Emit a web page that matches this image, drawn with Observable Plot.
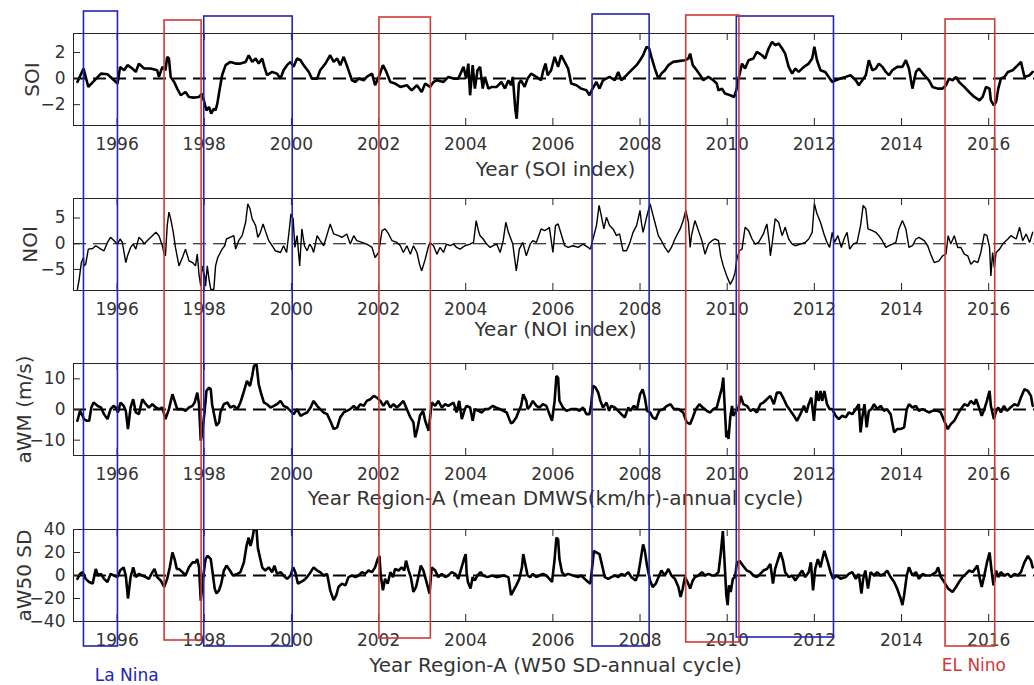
<!DOCTYPE html>
<html><head><meta charset="utf-8">
<script src="https://cdn.jsdelivr.net/npm/d3@7"></script>
<script src="https://cdn.jsdelivr.net/npm/@observablehq/plot@0.6"></script>
<style>
body{margin:0;background:#fff;}
#fig{position:relative;width:1034px;height:685px;overflow:hidden;background:#fff;font-family:"DejaVu Sans";}
#fig svg{position:absolute;left:0;max-width:none;}
</style></head><body><div id="fig"></div>
<script>
// ---- data: [year, value] ----
const soi = [[1995.09,-0.26],[1995.23,0.77],[1995.34,-0.64],[1995.63,0.38],[1995.78,0.33],[1996.01,-0.38],[1996.07,0.90],[1996.16,0.64],[1996.24,1.03],[1996.35,0.77],[1996.43,0.51],[1996.50,1.15],[1996.62,0.77],[1996.77,0.77],[1996.92,0.64],[1996.96,0.13],[1997.04,0.90],[1997.11,0.64],[1997.15,1.67],[1997.19,1.54],[1997.23,0.13],[1997.31,-0.26],[1997.38,-0.77],[1997.46,-1.28],[1997.57,-1.03],[1997.65,-1.41],[1997.76,-1.46],[1997.88,-1.41],[1997.95,-1.15],[1997.99,-1.67],[1998.05,-2.44],[1998.11,-2.18],[1998.16,-2.69],[1998.22,-2.31],[1998.26,-2.44],[1998.30,-1.92],[1998.35,-0.90],[1998.41,0.26],[1998.49,1.03],[1998.60,1.28],[1998.72,1.15],[1998.83,1.15],[1998.95,1.28],[1999.02,1.79],[1999.10,1.28],[1999.18,1.54],[1999.25,1.15],[1999.33,1.54],[1999.38,0.90],[1999.44,0.26],[1999.56,0.51],[1999.67,0.38],[1999.75,0],[1999.82,0.64],[1999.90,1.03],[1999.98,1.28],[2000.05,0.90],[2000.13,1.54],[2000.21,1.41],[2000.28,1.03],[2000.40,0.51],[2000.47,0],[2000.59,0],[2000.66,0.64],[2000.78,1.15],[2000.89,1.79],[2000.97,1.28],[2001.05,1.54],[2001.12,1.03],[2001.20,1.67],[2001.27,1.03],[2001.39,-0.13],[2001.47,-0.26],[2001.54,0],[2001.66,-0.13],[2001.73,0.13],[2001.85,0.38],[2001.92,-0.51],[2002.02,0.26],[2002.10,1.03],[2002.18,0.51],[2002.27,-0.26],[2002.38,-0.38],[2002.50,-0.64],[2002.65,-0.51],[2002.76,-0.90],[2002.88,-0.51],[2002.99,-1.03],[2003.07,-0.38],[2003.18,-0.64],[2003.26,-0.26],[2003.34,-0.13],[2003.49,-0.26],[2003.60,0.13],[2003.72,0],[2003.83,0],[2003.95,0.90],[2004.01,0],[2004.06,1.15],[2004.10,-1.28],[2004.16,1.03],[2004.21,-0.77],[2004.27,0.64],[2004.33,0.90],[2004.39,-0.77],[2004.44,0.13],[2004.52,-0.77],[2004.60,-0.64],[2004.71,-0.64],[2004.82,-0.26],[2004.90,-0.77],[2004.98,-0.13],[2005.04,-0.51],[2005.08,0.13],[2005.14,-2.44],[2005.17,-3.08],[2005.22,-0.38],[2005.27,-0.13],[2005.35,-0.64],[2005.42,0],[2005.50,0.38],[2005.62,0.13],[2005.73,-0.13],[2005.77,0.51],[2005.83,1.15],[2005.88,0.26],[2005.96,0.64],[2006.04,1.67],[2006.12,0.90],[2006.19,1.79],[2006.27,1.28],[2006.35,0.77],[2006.42,-0.38],[2006.54,-0.51],[2006.65,-0.77],[2006.77,-0.90],[2006.84,-1.28],[2006.91,-0.77],[2007.00,-0.26],[2007.07,-0.77],[2007.15,-0.13],[2007.30,0.13],[2007.42,-0.13],[2007.50,0.51],[2007.57,-0.13],[2007.69,0.26],[2007.80,0.64],[2007.92,1.03],[2008.00,1.41],[2008.07,1.79],[2008.15,2.44],[2008.21,2.31],[2008.26,1.67],[2008.34,0.77],[2008.42,0],[2008.49,0.38],[2008.57,0.64],[2008.65,1.03],[2008.76,1.28],[2008.92,1.36],[2009.03,1.41],[2009.11,1.54],[2009.15,1.92],[2009.21,1.03],[2009.30,0.64],[2009.38,0.26],[2009.45,-0.13],[2009.57,0.13],[2009.68,-0.13],[2009.76,-0.38],[2009.80,-0.90],[2009.88,-0.77],[2009.95,-1.15],[2010.07,-1.28],[2010.16,-1.41],[2010.22,-0.77],[2010.26,0],[2010.34,1.15],[2010.41,0.77],[2010.49,1.41],[2010.60,1.54],[2010.68,2.05],[2010.80,1.79],[2010.87,1.54],[2010.95,2.31],[2011.03,2.82],[2011.10,2.56],[2011.18,2.69],[2011.26,2.31],[2011.33,1.92],[2011.41,0.90],[2011.49,0.38],[2011.56,0.77],[2011.64,0.51],[2011.76,0.90],[2011.87,1.15],[2011.95,1.54],[2012.00,2.44],[2012.06,1.41],[2012.14,0.64],[2012.25,0.51],[2012.33,0.13],[2012.41,-0.26],[2012.49,-0.13],[2012.60,0],[2012.72,0.13],[2012.83,0.26],[2012.95,-0.13],[2013.02,-0.51],[2013.10,-0.13],[2013.18,0.26],[2013.25,1.41],[2013.33,0.64],[2013.41,0.77],[2013.48,1.15],[2013.56,0.90],[2013.64,0.51],[2013.71,0.26],[2013.79,0.64],[2013.90,0.90],[2014.02,0.90],[2014.10,1.41],[2014.17,0.77],[2014.25,-0.77],[2014.33,0.51],[2014.40,0.77],[2014.52,0.26],[2014.63,-0.13],[2014.71,-0.64],[2014.83,-0.77],[2014.94,-0.77],[2015.02,-0.51],[2015.09,0],[2015.17,-0.13],[2015.25,0.13],[2015.32,-0.26],[2015.44,-0.64],[2015.55,-1.03],[2015.67,-1.41],[2015.79,-1.67],[2015.86,-1.41],[2015.94,-0.64],[2016.02,-0.77],[2016.05,-1.67],[2016.12,-2.05],[2016.17,-1.79],[2016.22,-0.77],[2016.28,0],[2016.36,0.13],[2016.44,0.51],[2016.55,0.64],[2016.67,1.03],[2016.74,1.28],[2016.82,0.13],[2016.94,0.26],[2017.01,0.51]];

const noi = [[1995.09,-8.89],[1995.13,-6.93],[1995.18,-3.66],[1995.23,-2.68],[1995.24,-4.31],[1995.28,-3.99],[1995.34,-1.05],[1995.44,-0.92],[1995.51,-0.39],[1995.63,-1.05],[1995.70,-1.37],[1995.78,0.26],[1995.85,1.24],[1995.93,0.59],[1996.01,-0.07],[1996.07,0.92],[1996.12,0.26],[1996.20,-3.66],[1996.24,-2.35],[1996.31,-0.72],[1996.37,-0.07],[1996.43,-1.05],[1996.50,1.24],[1996.58,0.59],[1996.62,-0.07],[1996.73,0.92],[1996.81,1.57],[1996.89,2.22],[1996.96,1.57],[1997.04,-0.39],[1997.08,-2.03],[1997.11,-2.35],[1997.15,3.53],[1997.19,6.14],[1997.23,4.84],[1997.29,2.22],[1997.34,-0.72],[1997.42,-4.31],[1997.50,-2.68],[1997.57,-1.05],[1997.65,-3.33],[1997.73,-3.66],[1997.80,-4.31],[1997.84,-2.03],[1997.88,-5.95],[1997.92,-8.24],[1997.95,-4.31],[1998.01,-6.27],[1998.03,-8.24],[1998.07,-4.31],[1998.11,-6.93],[1998.15,-8.89],[1998.22,-8.89],[1998.26,-4.31],[1998.31,-2.68],[1998.37,-1.70],[1998.41,-1.05],[1998.47,-0.39],[1998.51,0.92],[1998.59,1.24],[1998.68,1.57],[1998.72,-1.05],[1998.79,0.59],[1998.87,1.57],[1998.95,4.18],[1999.00,7.78],[1999.05,6.80],[1999.10,4.84],[1999.18,3.53],[1999.23,1.24],[1999.29,2.22],[1999.35,3.86],[1999.40,2.55],[1999.48,0.59],[1999.56,-0.39],[1999.63,-1.37],[1999.75,-1.70],[1999.82,-0.39],[1999.89,-1.70],[1999.94,1.90],[1999.99,5.82],[2000.04,4.84],[2000.08,-0.72],[2000.13,1.57],[2000.19,-4.31],[2000.24,2.88],[2000.30,-0.39],[2000.36,-1.37],[2000.42,-0.07],[2000.47,-0.72],[2000.51,-1.70],[2000.59,1.57],[2000.66,0.59],[2000.74,-0.39],[2000.80,1.24],[2000.89,3.86],[2000.97,1.90],[2001.08,1.57],[2001.16,1.24],[2001.27,1.90],[2001.35,-0.07],[2001.43,1.57],[2001.50,0.59],[2001.62,0.26],[2001.73,-0.07],[2001.85,-0.72],[2001.92,-2.68],[2002.00,-1.70],[2002.08,2.55],[2002.15,2.88],[2002.23,1.90],[2002.31,0.59],[2002.42,0.26],[2002.50,-0.39],[2002.57,-1.70],[2002.65,-0.39],[2002.73,-2.03],[2002.80,-0.39],[2002.88,-1.70],[2002.94,-3.99],[2002.99,-5.29],[2003.07,-3.01],[2003.15,-0.39],[2003.18,0.26],[2003.26,-0.39],[2003.34,-2.03],[2003.41,-0.72],[2003.49,-1.70],[2003.56,-0.07],[2003.64,-0.39],[2003.72,-0.07],[2003.79,-0.72],[2003.87,-1.05],[2003.98,-0.39],[2004.10,-0.07],[2004.18,0.26],[2004.24,4.51],[2004.29,2.55],[2004.33,1.57],[2004.40,0.92],[2004.48,-0.07],[2004.56,-0.72],[2004.63,-0.39],[2004.71,-0.07],[2004.79,-1.70],[2004.86,0.59],[2004.92,4.18],[2004.98,2.22],[2005.08,-0.07],[2005.16,-5.29],[2005.23,-1.05],[2005.31,0.26],[2005.39,-2.35],[2005.48,-0.07],[2005.54,0.59],[2005.62,0.26],[2005.73,2.88],[2005.81,2.55],[2005.88,2.88],[2005.92,3.20],[2006.00,-1.70],[2006.06,3.53],[2006.12,3.86],[2006.19,1.90],[2006.27,-0.39],[2006.35,-0.72],[2006.46,-0.39],[2006.58,-0.72],[2006.69,-0.07],[2006.81,-0.72],[2006.86,-1.05],[2006.92,0.92],[2007.00,3.53],[2007.06,7.45],[2007.11,5.49],[2007.17,2.88],[2007.23,5.16],[2007.30,3.53],[2007.38,2.88],[2007.46,1.57],[2007.53,1.90],[2007.61,-1.37],[2007.69,-1.37],[2007.77,0.26],[2007.84,2.22],[2007.92,3.53],[2008.00,6.47],[2008.03,4.18],[2008.07,2.22],[2008.15,5.16],[2008.23,7.78],[2008.29,5.82],[2008.34,4.18],[2008.42,1.57],[2008.49,0.59],[2008.57,-0.72],[2008.65,-1.70],[2008.72,-0.72],[2008.80,0.92],[2008.92,2.88],[2008.99,4.51],[2009.05,6.47],[2009.11,4.18],[2009.15,-0.72],[2009.18,1.57],[2009.26,4.51],[2009.34,2.55],[2009.42,0.59],[2009.49,-2.03],[2009.57,-0.07],[2009.65,0.59],[2009.72,0.92],[2009.80,0.59],[2009.85,-2.35],[2009.91,-4.31],[2009.99,-6.27],[2010.07,-7.91],[2010.13,-6.93],[2010.18,-5.62],[2010.22,-3.01],[2010.28,-1.37],[2010.34,-1.05],[2010.41,3.20],[2010.49,2.55],[2010.57,0.92],[2010.64,-0.07],[2010.72,0.26],[2010.83,1.90],[2010.91,3.86],[2010.97,-0.07],[2010.99,-2.35],[2011.03,-0.07],[2011.10,4.84],[2011.18,4.18],[2011.26,1.57],[2011.33,3.20],[2011.41,0.92],[2011.49,-0.07],[2011.56,-0.39],[2011.68,-0.07],[2011.79,0.26],[2011.87,0.92],[2011.95,2.22],[2012.00,7.78],[2012.06,5.82],[2012.14,4.18],[2012.22,1.90],[2012.29,0.26],[2012.35,-0.72],[2012.41,2.22],[2012.46,0.26],[2012.54,1.57],[2012.62,-0.72],[2012.68,0.92],[2012.75,2.22],[2012.81,-1.05],[2012.89,-0.07],[2012.98,0.26],[2013.06,3.53],[2013.12,7.45],[2013.18,6.80],[2013.23,2.88],[2013.33,2.55],[2013.41,2.22],[2013.48,1.57],[2013.56,0.59],[2013.64,-0.72],[2013.71,-0.39],[2013.79,-0.07],[2013.87,0.26],[2013.94,2.88],[2014.02,4.51],[2014.10,2.88],[2014.17,-0.72],[2014.25,-0.39],[2014.33,0.92],[2014.40,1.24],[2014.52,0.59],[2014.60,-0.39],[2014.67,-2.03],[2014.75,-3.66],[2014.86,-3.33],[2014.94,-2.35],[2015.02,-2.03],[2015.07,1.57],[2015.13,-0.07],[2015.21,1.57],[2015.29,-0.72],[2015.36,-0.72],[2015.44,-2.03],[2015.52,-2.35],[2015.59,-3.99],[2015.67,-3.33],[2015.75,-3.66],[2015.82,-1.70],[2015.90,1.90],[2015.96,1.57],[2016.02,-0.72],[2016.05,-6.27],[2016.09,-1.70],[2016.13,-4.64],[2016.17,-1.70],[2016.25,-1.05],[2016.32,-0.07],[2016.44,0.92],[2016.51,1.57],[2016.63,0.92],[2016.71,3.20],[2016.78,0.59],[2016.86,1.90],[2016.94,0.26],[2017.01,2.22]];

const awm = [[1995.09,-3.68],[1995.15,-0.43],[1995.21,-2.05],[1995.24,-3.14],[1995.31,-3.68],[1995.36,-3.68],[1995.41,0.65],[1995.46,2.27],[1995.55,1.19],[1995.63,0.65],[1995.70,-1.51],[1995.78,-3.14],[1995.85,0.11],[1995.92,1.19],[1995.97,0.65],[1996.02,-0.97],[1996.08,2.27],[1996.15,1.19],[1996.20,-0.43],[1996.25,-6.38],[1996.31,0.65],[1996.37,3.35],[1996.43,-0.97],[1996.50,-1.51],[1996.58,3.35],[1996.66,1.73],[1996.73,0.65],[1996.81,1.73],[1996.89,0.65],[1996.96,0.11],[1997.04,0.65],[1997.11,-3.14],[1997.19,0.11],[1997.27,4.97],[1997.32,2.81],[1997.38,0.11],[1997.50,0.11],[1997.57,-0.43],[1997.65,0.65],[1997.73,1.19],[1997.78,2.27],[1997.84,5.51],[1997.88,1.73],[1997.92,-10.16],[1997.95,-8.0],[1998.01,-0.43],[1998.05,6.05],[1998.11,7.14],[1998.15,6.59],[1998.18,1.73],[1998.24,-2.59],[1998.28,-5.30],[1998.34,-4.22],[1998.37,-0.97],[1998.45,1.73],[1998.53,2.27],[1998.60,0.65],[1998.68,1.19],[1998.76,0.11],[1998.83,2.27],[1998.89,4.97],[1998.98,9.30],[1999.05,7.68],[1999.10,10.9],[1999.14,14.2],[1999.20,14.7],[1999.25,8.22],[1999.31,4.97],[1999.37,2.27],[1999.44,1.73],[1999.52,0.65],[1999.60,1.19],[1999.67,1.73],[1999.75,2.81],[1999.82,1.19],[1999.90,0.65],[1999.98,-0.43],[2000.05,-1.51],[2000.13,0.11],[2000.21,-2.05],[2000.28,-1.51],[2000.36,-0.97],[2000.44,0.65],[2000.51,2.81],[2000.59,1.19],[2000.66,0.11],[2000.74,-0.97],[2000.82,-1.51],[2000.89,-3.68],[2000.97,-6.38],[2001.05,-5.84],[2001.12,-2.59],[2001.20,-0.97],[2001.27,-0.43],[2001.35,0.11],[2001.43,1.19],[2001.50,0.11],[2001.58,1.73],[2001.66,1.19],[2001.73,2.81],[2001.81,3.35],[2001.89,4.43],[2001.96,3.89],[2002.04,2.81],[2002.11,1.19],[2002.19,2.81],[2002.27,0.65],[2002.34,1.73],[2002.42,0.65],[2002.50,1.73],[2002.57,2.81],[2002.65,0.11],[2002.73,-2.59],[2002.80,-4.22],[2002.84,-9.08],[2002.89,-6.38],[2002.95,-2.05],[2003.02,-0.43],[2003.07,-3.68],[2003.15,-6.92],[2003.22,2.27],[2003.30,1.19],[2003.37,2.81],[2003.45,0.65],[2003.53,1.73],[2003.60,1.19],[2003.72,2.27],[2003.79,-0.97],[2003.85,2.81],[2003.91,-3.1],[2003.98,0.11],[2004.02,1.19],[2004.10,0.65],[2004.16,-3.7],[2004.21,0.11],[2004.29,-0.43],[2004.37,-0.97],[2004.44,0.11],[2004.52,0.11],[2004.62,1.19],[2004.69,0.65],[2004.79,0.11],[2004.86,-0.43],[2004.94,-0.97],[2005.00,-3.14],[2005.04,-4.5],[2005.08,-4.22],[2005.16,-2.59],[2005.22,-0.43],[2005.27,1.19],[2005.32,4.97],[2005.39,2.81],[2005.42,0.11],[2005.48,1.19],[2005.54,2.81],[2005.62,1.19],[2005.69,0.65],[2005.77,1.73],[2005.85,1.19],[2005.92,-1.51],[2005.98,-3.68],[2006.04,2.81],[2006.08,10.9],[2006.12,10.4],[2006.15,2.81],[2006.23,0.65],[2006.31,-0.43],[2006.42,0.11],[2006.54,0.11],[2006.61,-0.43],[2006.69,0.65],[2006.77,-1.51],[2006.84,-1.51],[2006.88,1.73],[2006.92,7.68],[2006.98,7.14],[2007.04,5.51],[2007.09,2.81],[2007.15,0.65],[2007.23,2.27],[2007.29,-0.43],[2007.34,1.19],[2007.42,0.65],[2007.50,-0.43],[2007.57,-1.51],[2007.65,-2.59],[2007.73,0.65],[2007.78,-0.43],[2007.86,1.19],[2007.93,0.11],[2008.00,4.97],[2008.06,6.59],[2008.11,3.89],[2008.16,-0.43],[2008.23,-0.97],[2008.29,-2.59],[2008.36,-3.14],[2008.44,-0.43],[2008.53,0.11],[2008.62,1.19],[2008.70,1.73],[2008.78,0.11],[2008.88,0.11],[2008.99,-0.97],[2009.07,-4.22],[2009.15,-4.76],[2009.21,-2.59],[2009.28,0.11],[2009.36,1.73],[2009.44,0.65],[2009.53,-0.43],[2009.61,-0.97],[2009.68,0.11],[2009.76,0.65],[2009.82,3.89],[2009.88,7.14],[2009.91,10.4],[2009.94,1.73],[2009.98,-9.08],[2010.01,-6.92],[2010.03,-9.62],[2010.07,-2.59],[2010.11,1.19],[2010.14,-2.05],[2010.21,-0.43],[2010.26,0.65],[2010.31,4.43],[2010.37,1.73],[2010.45,1.19],[2010.53,-0.43],[2010.60,0.11],[2010.68,-0.97],[2010.76,1.73],[2010.83,2.27],[2010.91,3.35],[2010.99,4.43],[2011.07,1.73],[2011.14,5.51],[2011.22,5.51],[2011.30,3.35],[2011.37,1.19],[2011.45,-0.43],[2011.53,-2.05],[2011.60,-3.68],[2011.68,-1.51],[2011.76,1.19],[2011.82,-0.97],[2011.87,1.73],[2011.93,3.89],[2011.99,-3.68],[2012.05,6.05],[2012.10,2.81],[2012.14,6.05],[2012.18,2.81],[2012.23,6.05],[2012.29,1.73],[2012.35,0.11],[2012.41,0.11],[2012.49,-2.05],[2012.56,-3.14],[2012.64,-2.05],[2012.72,-2.59],[2012.79,-0.97],[2012.87,-1.51],[2012.95,0.11],[2013.02,1.73],[2013.06,-7.46],[2013.10,-2.59],[2013.15,1.73],[2013.20,-5.84],[2013.25,-0.43],[2013.31,0.11],[2013.37,1.73],[2013.44,0.11],[2013.52,1.19],[2013.60,-0.43],[2013.67,0.11],[2013.75,-1.51],[2013.83,-7.46],[2013.90,-6.38],[2013.98,-6.38],[2014.06,-5.84],[2014.12,0.11],[2014.17,1.73],[2014.25,0.65],[2014.33,1.19],[2014.40,-0.43],[2014.48,0.11],[2014.56,-0.43],[2014.63,-0.97],[2014.71,-0.43],[2014.83,-0.43],[2014.90,-0.97],[2014.98,-3.68],[2015.06,-6.4],[2015.13,-4.76],[2015.21,-3.68],[2015.29,-1.51],[2015.36,0.11],[2015.44,1.73],[2015.52,1.19],[2015.59,2.81],[2015.67,1.73],[2015.71,3.35],[2015.79,0.11],[2015.84,-2.05],[2015.90,0.11],[2015.96,2.81],[2016.02,6.05],[2016.05,1.19],[2016.12,-3.14],[2016.17,-0.43],[2016.22,0.65],[2016.28,-0.97],[2016.35,1.19],[2016.42,-0.43],[2016.50,0.65],[2016.59,1.73],[2016.67,1.19],[2016.74,3.89],[2016.82,6.59],[2016.90,6.05],[2016.97,4.43],[2017.01,1.19]];

const aw50 = [[1995.09,-2.9],[1995.15,1.4],[1995.21,2.9],[1995.28,-2.9],[1995.36,-5.7],[1995.44,-7.1],[1995.51,5.7],[1995.56,0],[1995.63,1.4],[1995.70,-2.9],[1995.78,-5.7],[1995.85,1.4],[1995.93,0],[1996.01,-1.4],[1996.07,4.3],[1996.15,7.1],[1996.20,0],[1996.25,-20],[1996.31,-1.4],[1996.37,7.1],[1996.43,-1.4],[1996.50,1.4],[1996.58,0],[1996.66,-1.4],[1996.73,-2.9],[1996.81,2.9],[1996.86,5.7],[1996.92,-1.4],[1997.00,-4.3],[1997.08,-10],[1997.15,-2.9],[1997.21,7.1],[1997.27,20],[1997.32,14.3],[1997.37,5.7],[1997.42,5.7],[1997.50,2.9],[1997.57,0],[1997.65,7.1],[1997.73,11.4],[1997.80,11.4],[1997.84,14.3],[1997.88,7.1],[1997.92,-22],[1997.98,0],[1998.03,14.3],[1998.08,17.1],[1998.15,14.3],[1998.19,2.9],[1998.24,-11.4],[1998.28,-15.7],[1998.34,-12.9],[1998.39,-7.1],[1998.45,4.3],[1998.51,8.6],[1998.59,4.3],[1998.66,0],[1998.76,1.4],[1998.83,2.9],[1998.91,11.4],[1998.97,25.7],[1999.02,32.9],[1999.06,25.7],[1999.10,31.4],[1999.14,40],[1999.20,40],[1999.23,24],[1999.27,17.1],[1999.33,7.1],[1999.40,4.3],[1999.48,7.1],[1999.56,2.9],[1999.61,8.6],[1999.67,1.4],[1999.75,2.9],[1999.82,0],[1999.90,-2.9],[1999.98,0],[2000.04,7.1],[2000.09,2.9],[2000.15,-7.1],[2000.21,-5.7],[2000.28,-4.3],[2000.36,-1.4],[2000.44,2.9],[2000.51,7.1],[2000.59,4.3],[2000.66,2.9],[2000.74,0],[2000.82,1.4],[2000.89,-12.9],[2000.97,-21.4],[2001.03,-17.1],[2001.08,-10],[2001.16,-7.1],[2001.24,-8.6],[2001.31,-1.4],[2001.39,0],[2001.47,-1.4],[2001.54,0],[2001.62,2.9],[2001.69,1.4],[2001.77,4.3],[2001.85,2.9],[2001.92,7.1],[2001.98,14.3],[2002.02,17.1],[2002.05,0],[2002.10,-12.9],[2002.15,-2.9],[2002.21,-7.1],[2002.27,2.9],[2002.33,-1.4],[2002.38,5.7],[2002.46,4.3],[2002.53,7.1],[2002.59,4.3],[2002.63,12.9],[2002.69,4.3],[2002.74,-1.4],[2002.80,-14.3],[2002.86,-10],[2002.92,0],[2002.97,8.6],[2003.03,4.3],[2003.09,-4.3],[2003.17,-15.7],[2003.22,7.1],[2003.30,4.3],[2003.37,-1.4],[2003.45,1.4],[2003.53,-1.4],[2003.60,0],[2003.68,2.9],[2003.76,1.4],[2003.83,-2.9],[2003.96,14.3],[2004.00,18.6],[2004.02,2.9],[2004.05,-5.7],[2004.11,-11.4],[2004.16,-1.4],[2004.21,-4.3],[2004.27,0],[2004.34,2.9],[2004.40,0],[2004.50,-1.4],[2004.60,0],[2004.71,-1.4],[2004.87,0],[2004.98,-1.4],[2005.04,-17.1],[2005.08,-14.3],[2005.16,-8.6],[2005.23,-2.9],[2005.29,7.1],[2005.32,18.6],[2005.39,5.7],[2005.42,0],[2005.48,-1.4],[2005.54,1.4],[2005.62,-1.4],[2005.69,0],[2005.77,1.4],[2005.85,0],[2005.92,-2.9],[2005.98,-5.7],[2006.04,14.3],[2006.08,32.9],[2006.12,31.4],[2006.15,14.3],[2006.21,2.9],[2006.27,0],[2006.35,1.4],[2006.46,0],[2006.58,-1.4],[2006.65,0],[2006.73,-2.9],[2006.81,-5.7],[2006.86,-7.1],[2006.91,10],[2006.94,21.4],[2007.00,20],[2007.07,18.6],[2007.14,7.1],[2007.19,-1.4],[2007.27,-2.9],[2007.34,-1.4],[2007.42,0],[2007.50,-1.4],[2007.57,1.4],[2007.65,0],[2007.73,2.9],[2007.80,-1.4],[2007.90,-4.3],[2007.96,1.4],[2008.01,12.9],[2008.07,27.1],[2008.11,21.4],[2008.16,8.6],[2008.23,-4.3],[2008.29,-10],[2008.36,-7.1],[2008.44,0],[2008.49,4.3],[2008.57,0],[2008.65,5.7],[2008.72,0],[2008.80,-2.9],[2008.88,-10],[2008.93,-18.6],[2008.98,-11.4],[2009.03,-1.4],[2009.09,-5.7],[2009.15,-11.4],[2009.21,-4.3],[2009.26,-1.4],[2009.34,0],[2009.42,2.9],[2009.49,0],[2009.57,1.4],[2009.65,0],[2009.72,0],[2009.80,2.9],[2009.85,18.6],[2009.90,38.6],[2009.94,11],[2009.98,-17.1],[2010.01,-25.7],[2010.04,-8.6],[2010.08,-14.3],[2010.13,-2.9],[2010.18,-1.4],[2010.22,10],[2010.28,12.9],[2010.36,8.6],[2010.45,4.3],[2010.53,2.9],[2010.60,0],[2010.68,-1.4],[2010.76,1.4],[2010.83,4.3],[2010.91,5.7],[2010.99,10],[2011.05,-7.1],[2011.10,5.7],[2011.17,14.3],[2011.22,20],[2011.28,12.9],[2011.33,2.9],[2011.41,-1.4],[2011.49,0],[2011.56,-4.3],[2011.64,0],[2011.72,4.3],[2011.79,-1.4],[2011.87,2.9],[2011.92,11.4],[2011.97,-12.9],[2012.02,5.7],[2012.08,14.3],[2012.14,7.1],[2012.20,17.1],[2012.23,21.4],[2012.31,11.4],[2012.37,2.9],[2012.43,-2.9],[2012.51,0],[2012.60,-2.9],[2012.72,-1.4],[2012.79,1.4],[2012.87,2.9],[2012.95,-2.9],[2013.02,1.4],[2013.08,-15.7],[2013.12,-2.9],[2013.17,4.3],[2013.23,-11.4],[2013.29,2.9],[2013.37,0],[2013.44,2.9],[2013.52,0],[2013.60,1.4],[2013.67,4.3],[2013.75,-1.4],[2013.83,-5.7],[2013.90,-11.4],[2013.98,-20],[2014.02,-25.7],[2014.06,-17.1],[2014.12,0],[2014.17,7.1],[2014.25,0],[2014.33,2.9],[2014.40,-2.9],[2014.48,1.4],[2014.56,0],[2014.67,0],[2014.79,2.9],[2014.84,7.1],[2014.90,-1.4],[2014.98,-5.7],[2015.07,-11.4],[2015.17,-14.3],[2015.25,-10],[2015.32,-5.7],[2015.40,-1.4],[2015.48,1.4],[2015.55,4.3],[2015.63,2.9],[2015.74,8.6],[2015.79,-1.4],[2015.84,-10],[2015.90,0],[2015.96,11.4],[2016.02,20],[2016.07,2.9],[2016.11,-8.6],[2016.17,4.3],[2016.22,-1.4],[2016.28,2.9],[2016.36,0],[2016.44,1.4],[2016.51,-1.4],[2016.59,1.4],[2016.67,0],[2016.74,2.9],[2016.82,11.4],[2016.90,17.1],[2016.97,12.9],[2017.01,7.1]];

const yearTicks = [1996, 1998, 2000, 2002, 2004, 2006, 2008, 2010, 2012, 2014, 2016];
const soiTicks = [-2, 0, 2];
const noiTicks = [-5, 0, 5];
const awmTicks = [-10, 0, 10];
const aw50Ticks = [-40, -20, 0, 20, 40];
const panelLabels = ["SOI", "NOI", "aWM (m/s)", "aW50 SD"];
const xLabels = ["Year (SOI index)", "Year (NOI index)", "Year Region-A (mean DMWS(km/hr)-annual cycle)", "Year Region-A (W50 SD-annual cycle)"];

// ENSO events: year span and vertical extent on the figure (figure rows, 0 = top)
const laNinaStart = [1995.24, 1998.00, 2006.91, 2010.22];
const laNinaEnd   = [1996.02, 2000.03, 2008.22, 2012.45];
const laNinaTop   = [11, 16, 14, 16];
const laNinaBot   = [646, 646, 646, 637];
const elNinoStart = [1997.09, 2002.02, 2009.06, 2015.01];
const elNinoEnd   = [1997.94, 2003.20, 2010.28, 2016.15];
const elNinoTop   = [20, 17, 15, 19];
const elNinoBot   = [640, 638, 642, 646];
const eventNames  = ["La Nina", "EL Nino"];
const eventNameYear = [1996.22, 2015.66];
const eventNameRow  = [675, 665];

// ---- layout ----
const W = 1040, ML = 73, MR = 3, FH = 92, MT = 10, MB = 62;
const PW = W - ML - MR;
const XDOM = [1995.0, 2017.12];
const FONT = "DejaVu Sans";
const TXT = "#333";
const AX = "#262626";
const TICKFS = 17;
const fig = document.getElementById("fig");

const panels = [
  {data: soi, dom: [-3.6, 3.46], ticks: soiTicks, top: 33, lw: 2.6, zw: 2, ylDx: -41, xlDy: 44.5},
  {data: noi, dom: [-9.1, 8.8], ticks: noiTicks, top: 198, lw: 1.4, zw: 1.1, ylDx: -43, xlDy: 39},
  {data: awm, dom: [-15, 15], ticks: awmTicks, top: 363, lw: 2.6, zw: 2.2, ylDx: -49, xlDy: 43},
  {data: aw50, dom: [-40, 40], ticks: aw50Ticks, top: 529, lw: 2.6, zw: 2.2, ylDx: -49, xlDy: 44}
];

panels.forEach((p, i) => {
  const rows = p.data.map(([t, v]) => ({t, v}));
  const svg = Plot.plot({
    width: W, height: MT + FH + MB,
    marginLeft: ML, marginRight: MR, marginTop: MT, marginBottom: MB,
    x: {domain: XDOM},
    y: {domain: p.dom},
    style: {fontFamily: FONT, color: TXT, background: "transparent", maxWidth: "none", overflow: "visible"},
    marks: [
      Plot.ruleY([0], {stroke: "black", strokeWidth: p.zw, strokeDasharray: "13,7"}),
      Plot.line(rows, {x: "t", y: "v", stroke: "black", strokeWidth: p.lw, clip: true, strokeLinejoin: "miter"}),
      Plot.frame({stroke: AX, strokeWidth: 1}),
      Plot.ruleX(yearTicks, {stroke: AX, insetTop: FH - 7}),
      Plot.ruleX(yearTicks, {stroke: AX, insetBottom: FH - 7}),
      Plot.ruleY(p.ticks, {stroke: AX, insetRight: PW - 7}),
      Plot.axisX(yearTicks, {tickSize: 0, tickPadding: 12, fontSize: TICKFS, tickFormat: d => String(d), label: null, fill: TXT}),
      Plot.axisY(p.ticks, {tickSize: 0, tickPadding: 8, fontSize: TICKFS, label: null, fill: TXT}),
      Plot.text([xLabels[i]], {frameAnchor: "bottom", dy: p.xlDy, lineAnchor: "middle", textAnchor: "middle", fontSize: 20, fill: TXT}),
      Plot.text([panelLabels[i]], {frameAnchor: "left", dx: p.ylDx, rotate: -90, lineAnchor: "middle", textAnchor: "middle", fontSize: 20, fill: TXT})
    ]
  });
  svg.style.top = (p.top - MT) + "px";
  fig.appendChild(svg);
});

// ---- ENSO overlay ----
const laNina = laNinaStart.map((s, i) => ({x1: s, x2: laNinaEnd[i], y1: laNinaTop[i], y2: laNinaBot[i]}));
const elNino = elNinoStart.map((s, i) => ({x1: s, x2: elNinoEnd[i], y1: elNinoTop[i], y2: elNinoBot[i]}));
const names = eventNames.map((n, i) => ({n, x: eventNameYear[i], y: eventNameRow[i]}));
const BLUE = "#2424b4", RED = "#d23a3a";
const overlay = Plot.plot({
  width: W, height: 685,
  marginLeft: ML, marginRight: MR, marginTop: 0, marginBottom: 0,
  x: {domain: XDOM, axis: null},
  y: {domain: [0, 685], range: [0, 685], axis: null},
  style: {fontFamily: FONT, background: "transparent", maxWidth: "none", pointerEvents: "none"},
  marks: [
    Plot.rect(laNina, {x1: "x1", x2: "x2", y1: "y1", y2: "y2", fill: "none", stroke: BLUE, strokeWidth: 1.6}),
    Plot.rect(elNino, {x1: "x1", x2: "x2", y1: "y1", y2: "y2", fill: "none", stroke: RED, strokeWidth: 1.6}),
    Plot.text(names, {x: "x", y: "y", text: "n", fontSize: 17, lineAnchor: "middle", fill: (d, i) => i === 0 ? BLUE : RED})
  ]
});
overlay.style.top = "0px";
fig.appendChild(overlay);
</script>
</body></html>
